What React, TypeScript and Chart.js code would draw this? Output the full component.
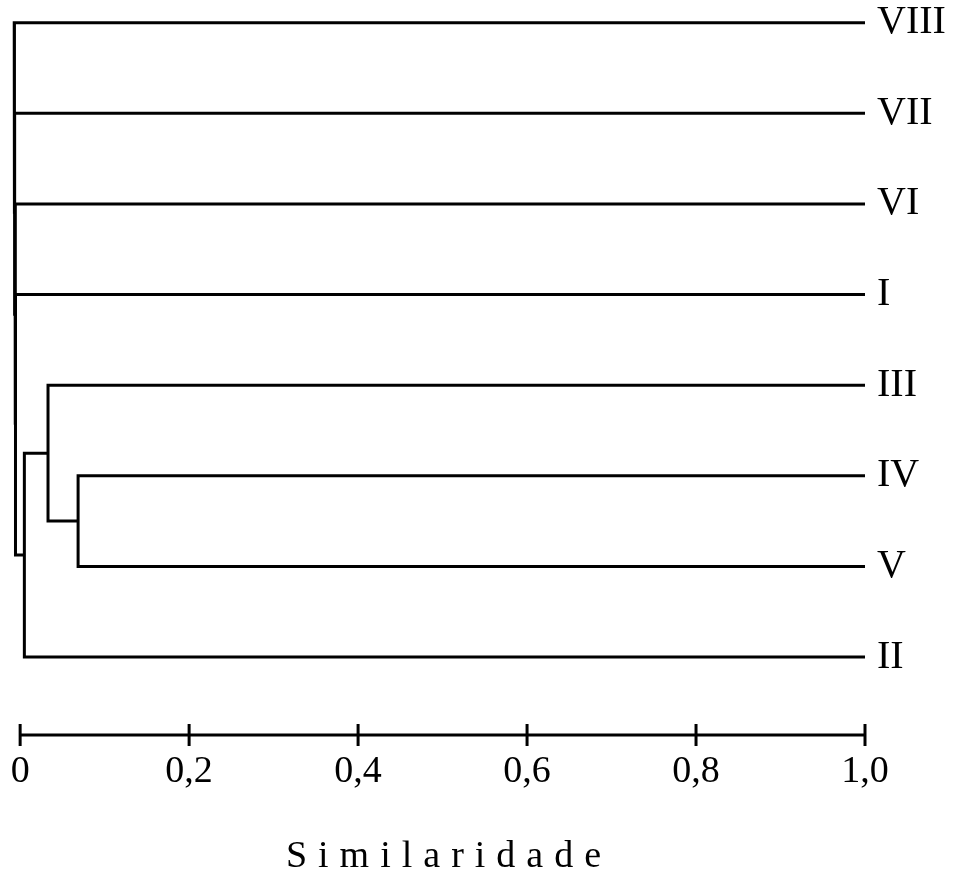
import { useEffect, useRef } from 'react';
import { Chart, registerables } from 'chart.js';

Chart.register(...registerables);

// Leaves, top to bottom
const leafLabels = ['VIII', 'VII', 'VI', 'I', 'III', 'IV', 'V', 'II'];
const leafSimilarity = 1.0;

// Merges (m0, m1, ... are the clusters created in this order)
const mergeLeft = ['IV', 'III', 'm1', 'I', 'VI', 'VII', 'VIII'];
const mergeRight = ['V', 'm0', 'II', 'm2', 'm3', 'm4', 'm5'];
const mergeSimilarity = [0.0686, 0.033, 0.005, -0.0055, -0.006, -0.0065, -0.007];

// Axis
const xTickValues = [0, 0.2, 0.4, 0.6, 0.8, 1.0];
const xTickLabels = ['0', '0,2', '0,4', '0,6', '0,8', '1,0'];
const axisTitle = 'Similaridade';

const FONT = "'Liberation Serif', 'Times New Roman', serif";

function buildDatasets() {
  const nodes: Record<string, { x: number; y: number }> = {};
  leafLabels.forEach((l, i) => {
    nodes[l] = { x: leafSimilarity, y: leafLabels.length - i };
  });
  return mergeLeft.map((l, k) => {
    const a = nodes[l];
    const b = nodes[mergeRight[k]];
    const s = mergeSimilarity[k];
    nodes['m' + k] = { x: s, y: (a.y + b.y) / 2 };
    return {
      data: [
        { x: a.x, y: a.y },
        { x: s, y: a.y },
        { x: s, y: b.y },
        { x: b.x, y: b.y },
      ],
      showLine: true,
      borderColor: '#000',
      borderWidth: 3,
      pointRadius: 0,
      pointHoverRadius: 0,
      tension: 0,
      fill: false,
    };
  });
}

const axisPlugin = {
  id: 'simAxis',
  afterDraw(chart: any) {
    const { ctx, chartArea } = chart;
    const x = chart.scales.x;
    const y0 = chartArea.bottom;
    ctx.save();
    ctx.strokeStyle = '#000';
    ctx.lineWidth = 3;
    ctx.beginPath();
    ctx.moveTo(x.getPixelForValue(xTickValues[0]), y0);
    ctx.lineTo(x.getPixelForValue(xTickValues[xTickValues.length - 1]), y0);
    ctx.stroke();
    ctx.lineWidth = 3;
    xTickValues.forEach((v) => {
      const px = x.getPixelForValue(v);
      ctx.beginPath();
      ctx.moveTo(px, y0 - 11);
      ctx.lineTo(px, y0 + 11);
      ctx.stroke();
    });
    // spaced axis title
    ctx.font = `38px ${FONT}`;
    ctx.fillStyle = '#000';
    ctx.textBaseline = 'alphabetic';
    ctx.textAlign = 'left';
    const spacing = 11;
    const chars = axisTitle.split('');
    const widths = chars.map((c) => ctx.measureText(c).width);
    const total = widths.reduce((s, w) => s + w, 0) + spacing * (chars.length - 1);
    const cx = (chartArea.left + chartArea.right) / 2 + 6;
    let px = cx - total / 2;
    const baseline = y0 + 132;
    chars.forEach((c, i) => {
      ctx.fillText(c, px, baseline);
      px += widths[i] + spacing;
    });
    ctx.restore();
  },
};

export default function App() {
  const ref = useRef<HTMLCanvasElement | null>(null);
  useEffect(() => {
    if (!ref.current) return;
    const chart = new Chart(ref.current, {
      type: 'scatter',
      data: { datasets: buildDatasets() as any },
      options: {
        animation: false,
        responsive: false,
        maintainAspectRatio: false,
        layout: { padding: { left: 10, top: 0, right: 0, bottom: 0 } },
        plugins: {
          legend: { display: false },
          tooltip: { enabled: false },
          title: { display: false },
        },
        scales: {
          x: {
            type: 'linear',
            position: 'bottom',
            min: -0.012,
            max: 1.0,
            grid: { display: false, drawTicks: false },
            border: { display: false },
            afterBuildTicks: (scale: any) => {
              scale.ticks = xTickValues.map((v) => ({ value: v }));
            },
            afterFit: (scale: any) => {
              scale.height = 144;
              scale.paddingLeft = 0;
              scale.paddingRight = 0;
            },
            ticks: {
              autoSkip: false,
              maxRotation: 0,
              minRotation: 0,
              padding: 14,
              color: '#000',
              font: { family: FONT, size: 38 },
              callback: (_v: any, i: number) => xTickLabels[i],
            },
          },
          y: {
            type: 'linear',
            position: 'right',
            min: 0.14,
            max: 8.25,
            grid: { display: false, drawTicks: false },
            border: { display: false },
            afterBuildTicks: (scale: any) => {
              scale.ticks = leafLabels.map((_, i) => ({ value: i + 1 }));
            },
            afterFit: (scale: any) => {
              scale.width = 92;
              scale.paddingTop = 0;
              scale.paddingBottom = 0;
            },
            ticks: {
              autoSkip: false,
              padding: 12,
              color: '#000',
              font: { family: FONT, size: 40 },
              callback: (v: any) => leafLabels[leafLabels.length - Number(v)],
            },
          },
        },
      },
      plugins: [axisPlugin],
    });
    return () => chart.destroy();
  }, []);
  return (
    <div style={{ position: 'fixed', left: 0, top: 0, width: 957, height: 879, background: '#fff' }}>
      <canvas ref={ref} width={957} height={879} style={{ width: 957, height: 879, display: 'block' }} />
    </div>
  );
}
